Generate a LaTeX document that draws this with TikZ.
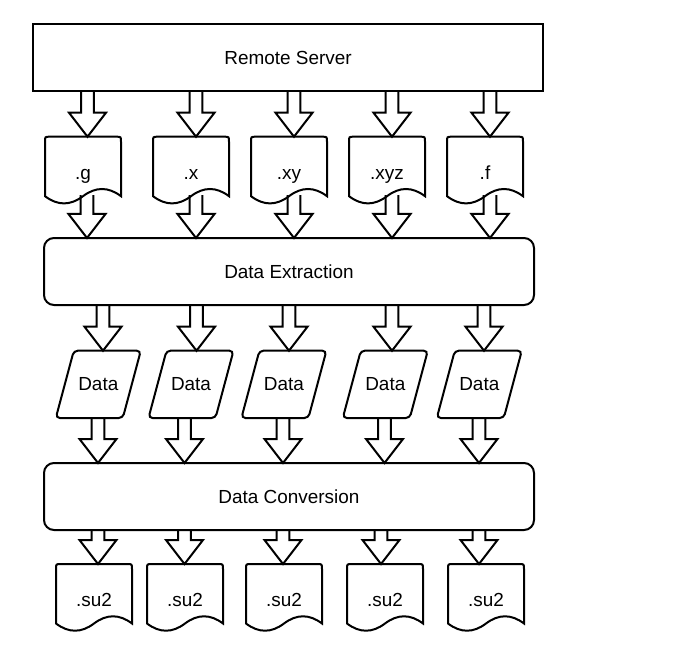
\documentclass[tikz,border=0pt]{standalone}
\usepackage{fontspec}
\setmainfont{Liberation Sans}
\usetikzlibrary{calc}
\newcommand\mydoc[1]{\draw[lw, shift={(#1.north west)}] (76,59.5) .. controls (63.3,49.9) and (50.7,49.9) .. (38,59.5) .. controls (25.3,69.1) and (12.7,69.1) .. (0,59.5) -- (0,5) .. controls (0,0) .. (5,0) -- (71,0) .. controls (76,0) .. (76,5) -- cycle;}
\newcommand\mypara[1]{\draw[lw, rounded corners=3pt, shift={(#1.north west)}] (18,0) -- (85,0) -- (67,67.3) -- (0,67.3) -- cycle;}
\begin{document}
\begin{tikzpicture}[x=0.75pt,y=-0.75pt,
  every node/.style={font=\fontsize{14.2}{17}\selectfont, inner sep=0pt, outer sep=0pt},
  lw/.style={line width=1.5pt, line join=miter},
  bigbox/.style={lw, draw, minimum width=#1, minimum height=50.25pt},
  docnode/.style={minimum width=57pt, minimum height=50.625pt},
  paranode/.style={minimum width=63.75pt, minimum height=50.475pt},
  barrow/.style={lw, to path={let \p1=(\tikztostart), \p2=(\tikztotarget) in
     (\x1-4.725pt,\y1) -- (\x1-4.725pt,\y2+18pt) -- (\x1-13.875pt,\y2+18pt) -- (\x1,\y2)
     -- (\x1+13.875pt,\y2+18pt) -- (\x1+4.725pt,\y2+18pt) -- (\x1+4.725pt,\y1)}}
]
\fill[white] (0,0) rectangle (688,645);
\useasboundingbox (0,0) rectangle (688,645);

% main boxes
\node[bigbox=382.5pt] (rs) at (288,57.5) {Remote Server};
\node[bigbox=367.5pt, rounded corners=7.5pt] (de) at (289,271.5) {Data Extraction};
\node[bigbox=367.5pt, rounded corners=7.5pt] (dc) at (289,496.5) {Data Conversion};

% top documents
\foreach \cx/\lab [count=\i] in {83/.g,191/.x,289/.xy,387/.xyz,485/.f} {
  \node[docnode] (d\i) at (\cx,170.45) {};
  \mydoc{d\i}
  \node[anchor=base] (dt\i) at (\cx,179.5) {\lab};
}

% data parallelograms
\foreach \cx [count=\i] in {98.3,191,283.9,385.3,479.3} {
  \node[paranode] (p\i) at (\cx,384.35) {Data};
  \mypara{p\i}
}

% bottom documents
\foreach \cx [count=\i] in {94,185,284,385,486} {
  \node[docnode] (b\i) at (\cx,597.75) {};
  \mydoc{b\i}
  \node[anchor=base] (bt\i) at (\cx,606) {.su2};
}

% arrows: server -> documents
\foreach \xx [count=\i] in {87.5,196,294,392,490} {
  \coordinate (ax\i) at (\xx,0);
  \draw[barrow] (ax\i |- rs.south) to (ax\i |- d\i.north);
}
% documents -> extraction
\foreach \xx [count=\i] in {87,196,294,392,490} {
  \coordinate (bx\i) at (\xx,0);
  \draw[barrow] ($(bx\i |- d\i.south)+(0,-9)$) to (bx\i |- de.north);
}
% extraction -> data
\foreach \xx [count=\i] in {103,196.5,289,392,484} {
  \coordinate (cx\i) at (\xx,0);
  \draw[barrow] (cx\i |- de.south) to (cx\i |- p\i.north);
}
% data -> conversion
\foreach \xx [count=\i] in {98,184.5,283,384.5,479} {
  \coordinate (ex\i) at (\xx,0);
  \draw[barrow] (ex\i |- p\i.south) to (ex\i |- dc.north);
}
% conversion -> su2
\foreach \xx [count=\i] in {98,184.5,283,381,479} {
  \coordinate (fx\i) at (\xx,0);
  \draw[barrow] (fx\i |- dc.south) to (fx\i |- b\i.north);
}
\end{tikzpicture}
\end{document}
